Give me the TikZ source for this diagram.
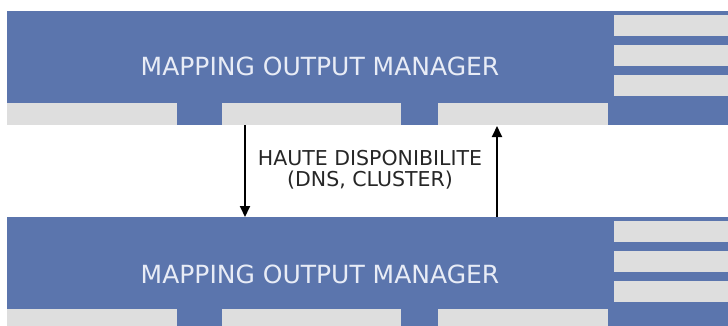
\documentclass[tikz,border=0pt]{standalone}
\usepackage{fontspec}
\setmainfont{DejaVu Sans}
\usetikzlibrary{arrows.meta}
\definecolor{momblue}{HTML}{5B75AD}
\definecolor{momgrey}{HTML}{DEDEDE}
\definecolor{momtext}{HTML}{E8ECF6}
\def\momblock(#1){%
	\draw[fill=momblue, draw=none] (7, #1) rectangle (740, #1+114);
	\foreach \ya/\yb in {4/25, 34/55, 64/85}
		\draw[fill=momgrey, draw=none] (614, #1+\ya) rectangle (740, #1+\yb);
	\foreach \xa/\xb in {7/177, 222/401, 438/608}
		\draw[fill=momgrey, draw=none] (\xa, #1+92) rectangle (\xb, #1+114);
}

\begin{document}
\begin{tikzpicture}[x=1pt, y=-1pt,
		title/.style={text=momtext, anchor=base, inner sep=0pt, font=\fontsize{25}{25}\selectfont},
		label/.style={text=black!85, align=center, inner sep=0pt, font=\fontsize{20.5}{21}\selectfont},
		arr/.style={line width=0.65mm, -{Triangle[length=11pt, width=10pt]}}]
			%%%%% START %%%%%
			\clip (0, 0) rectangle (728, 325);
			\useasboundingbox (0, 0) rectangle (728, 325);
			
			\momblock(11)
			\node[title] (momA) at (320, 75) {MAPPING OUTPUT MANAGER};
			
			\momblock(217)
			\node[title] (momB) at (320, 283) {MAPPING OUTPUT MANAGER};
			
			\node[label] (ha) at (370, 170) {HAUTE DISPONIBILITE\\(DNS, CLUSTER)};
			
			% arrows between the two blocks
			\coordinate (dnA) at (245, 125);
			\coordinate (dnB) at (245, 217);
			\coordinate (upA) at (497, 126);
			\coordinate (upB) at (497, 217);
			\draw[arr] (dnA) -- (dnB);
			\draw[arr] (upB) -- (upA);
			
			%%%%% END %%%%%
\end{tikzpicture}
\end{document}
